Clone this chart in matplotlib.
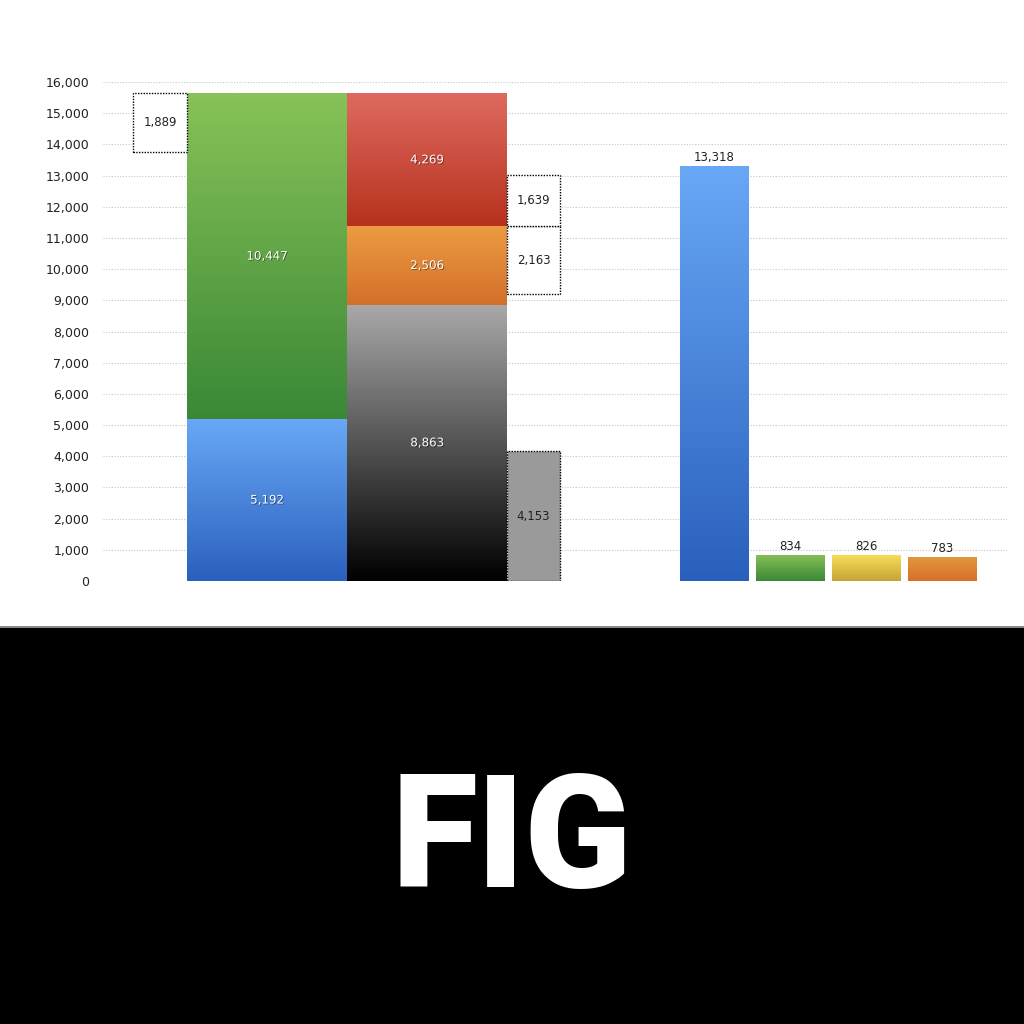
import matplotlib
matplotlib.use("Agg")
import matplotlib.pyplot as plt
import matplotlib.patheffects as pe
from matplotlib.patches import Rectangle
import numpy as np

# ---- data ----
stack1_labels = ["blue", "green"]
stack1_values = [5192, 10447]
stack2_labels = ["black", "orange", "red"]
stack2_values = [8863, 2506, 4269]
left_box_value = 1889          # dotted box beside top of stack 1
right_box_values = [4153, 2163, 1639]  # dotted boxes beside stack 2
right_bar_values = [13318, 834, 826, 783]
y_ticks = list(range(0, 16001, 1000))

# ---- styles ----
grad = {
    "blue": ("#68a8f6", "#2a60bd"),
    "green": ("#88c258", "#3a8836"),
    "black": ("#a9a9a9", "#000000"),
    "orange": ("#ec9c42", "#d36f2b"),
    "red": ("#de6b60", "#b7311d"),
    "yellow": ("#f5de5a", "#c6a334"),
    "orange2": ("#e2983f", "#d7702a"),
}
right_bar_colors = ["blue", "green", "yellow", "orange2"]

fig = plt.figure(figsize=(10.24, 10.24), dpi=100)
fig.patch.set_facecolor("white")
ax = fig.add_axes([103 / 1024, 443 / 1024, 904 / 1024, 499 / 1024])
ax.set_xlim(103, 1007)
ax.set_ylim(0, 16000)
for s in ax.spines.values():
    s.set_visible(False)
ax.set_xticks([])
ax.set_yticks(y_ticks)
ax.set_yticklabels([f"{v:,}" for v in y_ticks], fontsize=9, color="#222222")
ax.tick_params(axis="y", length=0, pad=10)
for v in y_ticks:
    ax.axhline(v, color="#c8c8c8", lw=0.8, ls=(0, (1, 1.5)), zorder=0)


def grad_bar(x_left, width, bottom, height, key):
    top_c, bot_c = grad[key]
    rect = Rectangle((x_left, bottom), width, height, facecolor="none",
                     edgecolor="none", zorder=2)
    ax.add_patch(rect)
    c1 = np.array(matplotlib.colors.to_rgb(top_c))
    c2 = np.array(matplotlib.colors.to_rgb(bot_c))
    t = np.linspace(0, 1, 256)[:, None]
    img = (c1 * (1 - t) + c2 * t)[:, None, :]
    im = ax.imshow(img, extent=(x_left, x_left + width, bottom, bottom + height),
                   aspect="auto", zorder=2, interpolation="bilinear")
    im.set_clip_path(rect)


shadow = [pe.SimplePatchShadow(offset=(0.6, -0.6), shadow_rgbFace="black", alpha=0.45),
          pe.Normal()]


def inner_label(xc, y, val):
    ax.text(xc, y, f"{val:,}", ha="center", va="center", fontsize=8.5,
            color="white", zorder=5, path_effects=shadow)


def dotted_box(x_left, width, bottom, height, val, face="white"):
    r = Rectangle((x_left, bottom), width, height, facecolor=face,
                  edgecolor="black", lw=1.0, ls=(0, (1, 1)), zorder=3)
    ax.add_patch(r)
    ax.text(x_left + width / 2, bottom + height / 2, f"{val:,}", ha="center",
            va="center", fontsize=8.5, color="#222222", zorder=5)


# stack 1
x1, w1 = 187, 160
b = 0
for key, v in zip(stack1_labels, stack1_values):
    grad_bar(x1, w1, b, v, key)
    inner_label(x1 + w1 / 2, b + v / 2, v)
    b += v
top1 = b
dotted_box(133, 54, top1 - left_box_value, left_box_value, left_box_value)

# stack 2
x2, w2 = 347, 160
b = 0
bottoms2 = []
for key, v in zip(stack2_labels, stack2_values):
    grad_bar(x2, w2, b, v, key)
    bottoms2.append(b)
    inner_label(x2 + w2 / 2, b + v / 2, v)
    b += v

# dotted boxes right of stack 2
xb, wb = 507, 53
dotted_box(xb, wb, 0, right_box_values[0], right_box_values[0], face="#9a9a9a")
orange_top = bottoms2[2]
dotted_box(xb, wb, orange_top - right_box_values[1], right_box_values[1], right_box_values[1])
dotted_box(xb, wb, orange_top, right_box_values[2], right_box_values[2])

# right bars
rx = [680, 756, 832, 908]
rw = 69
for xl, v, key in zip(rx, right_bar_values, right_bar_colors):
    grad_bar(xl, rw, 0, v, key)
    ax.text(xl + rw / 2, v + 60, f"{v:,}", ha="center", va="bottom",
            fontsize=8.5, color="#222222", zorder=5)

# bottom black panel
fig.patches.append(Rectangle((0, 0), 1, 396 / 1024, transform=fig.transFigure,
                             facecolor="black", edgecolor="none", zorder=0))
fig.patches.append(Rectangle((0, 396 / 1024), 1, 2 / 1024, transform=fig.transFigure,
                             facecolor="#888888", edgecolor="none", zorder=0))
fig.text(0.5, 1 - 887 / 1024, "FIG", ha="center", va="baseline", color="white",
         fontsize=113, fontweight="black", family=["Roboto", "DejaVu Sans"])

fig.savefig("out.png", dpi=100)
